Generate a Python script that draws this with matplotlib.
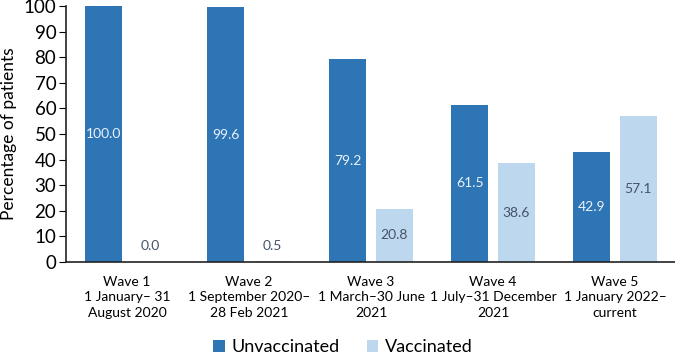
import matplotlib
matplotlib.use("Agg")
import matplotlib.pyplot as plt
import numpy as np

plt.rcParams['font.family'] = ['Lato', 'DejaVu Sans']

waves = ["Wave 1\n1 January\u2013 31\nAugust 2020",
         "Wave 2\n1 September 2020\u2013\n28 Feb 2021",
         "Wave 3\n1 March\u201330 June\n2021",
         "Wave 4\n1 July\u201331 December\n2021",
         "Wave 5\n1 January 2022\u2013\ncurrent"]
unvaccinated = [100.0, 99.6, 79.2, 61.5, 42.9]
vaccinated = [0.0, 0.5, 20.8, 38.6, 57.1]

dark = "#2E75B6"
light = "#BDD7EE"

fig = plt.figure(figsize=(6.75, 3.56), dpi=100)
ax = fig.add_axes([66 / 675, 1 - 262 / 356, 610 / 675, 256 / 356])

x = np.arange(len(waves))
w = 0.303
off = 0.19
b1 = ax.bar(x - off, unvaccinated, w, color=dark, label="Unvaccinated")
b2 = ax.bar(x + off, vaccinated, w, color=light, label="Vaccinated")

# value labels in the middle of each bar
for xi, v in zip(x - off, unvaccinated):
    ax.text(xi, max(v / 2, 6), f"{v:.1f}", ha="center", va="center",
            fontsize=10, color="#EAF1FA")
for xi, v in zip(x + off, vaccinated):
    ax.text(xi, max(v / 2, 6.3), f"{v:.1f}", ha="center", va="center",
            fontsize=10, color="#44546A")

ax.set_xlim(-0.5, 4.5)
ax.set_ylim(0, 100)
ax.set_yticks(range(0, 101, 10))
ax.set_xticks(x)
ax.set_xticklabels(waves, fontsize=10, linespacing=1.35)
ax.tick_params(axis="x", length=0, pad=10)
ax.tick_params(axis="y", length=5, labelsize=13.5, pad=2)
ax.set_ylabel("Percentage of patients", fontsize=12.5, labelpad=5)

for s in ["top", "right"]:
    ax.spines[s].set_visible(False)
for s in ["left", "bottom"]:
    ax.spines[s].set_color("#222222")
    ax.spines[s].set_linewidth(1.2)

fig.legend(handles=[b1, b2], loc="center", bbox_to_anchor=(0.508, 1 - 347 / 356),
           ncol=2, frameon=False, fontsize=13, handlelength=0.65,
           handleheight=0.65, handletextpad=0.35, columnspacing=1.5)

fig.savefig("out.png", dpi=100)
